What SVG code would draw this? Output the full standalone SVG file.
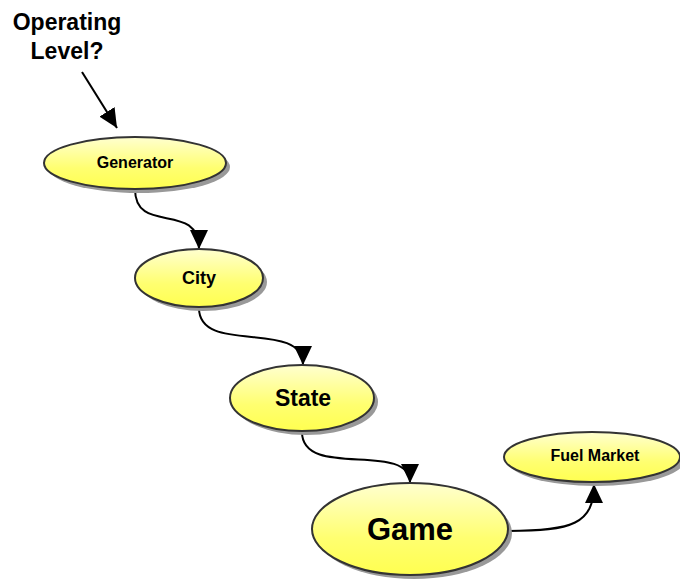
<svg xmlns="http://www.w3.org/2000/svg" width="680" height="583" viewBox="0 0 680 583">
  <defs>
    <linearGradient id="nodeFill" x1="0" y1="0" x2="0" y2="1">
      <stop offset="0" stop-color="#ffffd0"/>
      <stop offset="0.6" stop-color="#ffff70"/>
      <stop offset="1" stop-color="#ffff50"/>
    </linearGradient>
    <marker id="arrow" markerUnits="userSpaceOnUse" markerWidth="20" markerHeight="18" refX="19" refY="9" orient="auto">
      <path d="M0,0 L19,9 L0,18 Z" fill="#000"/>
    </marker>
  </defs>
  <style>
    .shadow { fill: #999; }
    .body { fill: url(#nodeFill); stroke: #333; stroke-width: 2; }
    .label { font-family: "Liberation Sans", Arial, sans-serif; font-weight: bold; fill: #000; text-anchor: middle; dominant-baseline: central; }
    .edge { fill: none; stroke: #000; stroke-width: 2; marker-end: url(#arrow); }
  </style>
  <rect width="680" height="583" fill="#fff"/>

  <!-- curved connectors, each ending in a filled arrowhead -->
  <g id="connectors">
    <path class="edge" d="M82,72 L117,128"/>
    <path class="edge" d="M135,189 C135,236 199,200 199,249"/>
    <path class="edge" d="M199,308 C199,356 303,318 303,365"/>
    <path class="edge" d="M302,432 C302,480 410,440 410,483"/>
    <path class="edge" d="M508,531 C572,531 594,524 594,484"/>
  </g>

  <g id="operating-level">
    <text class="label" x="67" y="22" font-size="23">Operating</text>
    <text class="label" x="67" y="51" font-size="23">Level?</text>
  </g>

  <g id="generator">
    <ellipse class="shadow" cx="139" cy="167" rx="91" ry="26"/>
    <ellipse class="body" cx="135" cy="163" rx="91" ry="26"/>
    <text class="label" x="135" y="162" font-size="16">Generator</text>
  </g>

  <g id="city">
    <ellipse class="shadow" cx="203" cy="282" rx="64" ry="29"/>
    <ellipse class="body" cx="199" cy="278" rx="64" ry="29"/>
    <text class="label" x="199" y="278" font-size="18">City</text>
  </g>

  <g id="state">
    <ellipse class="shadow" cx="306" cy="402" rx="72" ry="33"/>
    <ellipse class="body" cx="302" cy="398" rx="72" ry="33"/>
    <text class="label" x="303" y="398" font-size="23">State</text>
  </g>

  <g id="game">
    <ellipse class="shadow" cx="414" cy="533" rx="98" ry="46"/>
    <ellipse class="body" cx="410" cy="529" rx="98" ry="46"/>
    <text class="label" x="410" y="529" font-size="31">Game</text>
  </g>

  <g id="fuel-market">
    <ellipse class="shadow" cx="596" cy="461" rx="88" ry="25"/>
    <ellipse class="body" cx="592" cy="457" rx="88" ry="25"/>
    <text class="label" x="595" y="455" font-size="16">Fuel Market</text>
  </g>
</svg>
